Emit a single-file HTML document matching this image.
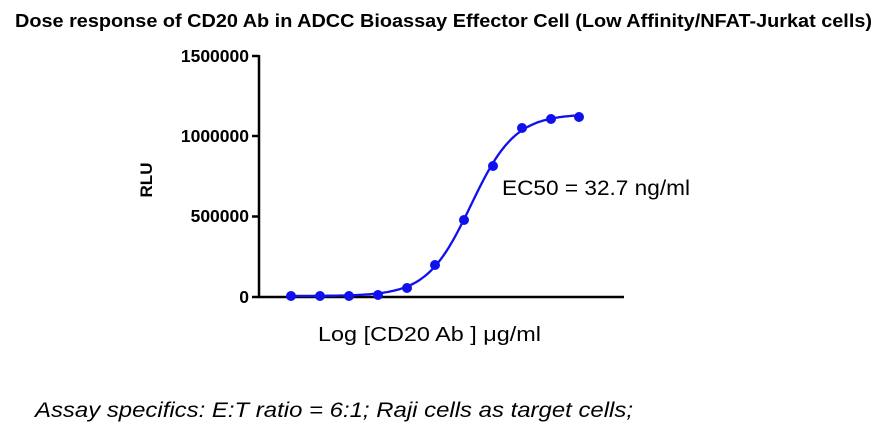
<!DOCTYPE html>
<html><head><meta charset="utf-8"><style>
body{margin:0;background:#fff;width:879px;height:430px;overflow:hidden}
svg text{font-family:"Liberation Sans",Arial,sans-serif}
</style></head><body>
<svg id="s" width="879" height="430" xmlns="http://www.w3.org/2000/svg">
<text x="15" y="27" font-size="18" font-weight="bold" textLength="857" lengthAdjust="spacingAndGlyphs">Dose response of CD20 Ab in ADCC Bioassay Effector Cell (Low Affinity/NFAT-Jurkat cells)</text>
<g stroke="#000" stroke-width="2.5" fill="none">
<line x1="259" y1="55" x2="259" y2="297"/>
<line x1="258" y1="297" x2="624" y2="297"/>
<line x1="252" y1="56" x2="259" y2="56"/>
<line x1="252" y1="136" x2="259" y2="136"/>
<line x1="252" y1="216.5" x2="259" y2="216.5"/>
<line x1="252" y1="297" x2="259" y2="297"/>
</g>
<g font-size="17.5" font-weight="bold" text-anchor="end">
<text x="249" y="62">1500000</text>
<text x="249" y="142">1000000</text>
<text x="249" y="222">500000</text>
<text x="249" y="303">0</text>
</g>
<text transform="translate(152,180) rotate(-90)" text-anchor="middle" font-size="17" font-weight="bold">RLU</text>
<text x="318" y="341" font-size="20" textLength="223" lengthAdjust="spacingAndGlyphs">Log [CD20 Ab ] μg/ml</text>
<text x="502" y="195" font-size="21" textLength="188" lengthAdjust="spacingAndGlyphs">EC50 = 32.7 ng/ml</text>
<text x="35" y="417" font-size="21" font-style="italic" textLength="598" lengthAdjust="spacingAndGlyphs">Assay specifics: E:T ratio = 6:1; Raji cells as target cells;</text>
<path id="c" fill="none" stroke="#1010ee" stroke-width="2.3"/>
<g id="p" fill="#1010ee"></g>
</svg>
<script>
var d="";
for(var x=291;x<=579;x+=2){var f=1/(1+Math.exp(-(x-471)/22));var y=296-182*f;d+=(d?"L":"M")+x+","+y.toFixed(1);}
document.getElementById("c").setAttribute("d",d);
var pts=[[291,296],[320,296],[349,296],[378,295],[407,288],[435,265],[464,220],[493,166],[522,128],[551,119],[579,117]];
var g=document.getElementById("p"),h="";
pts.forEach(function(p){h+='<circle cx="'+p[0]+'" cy="'+p[1]+'" r="5"/>';});
g.innerHTML=h;
</script>
</body></html>
